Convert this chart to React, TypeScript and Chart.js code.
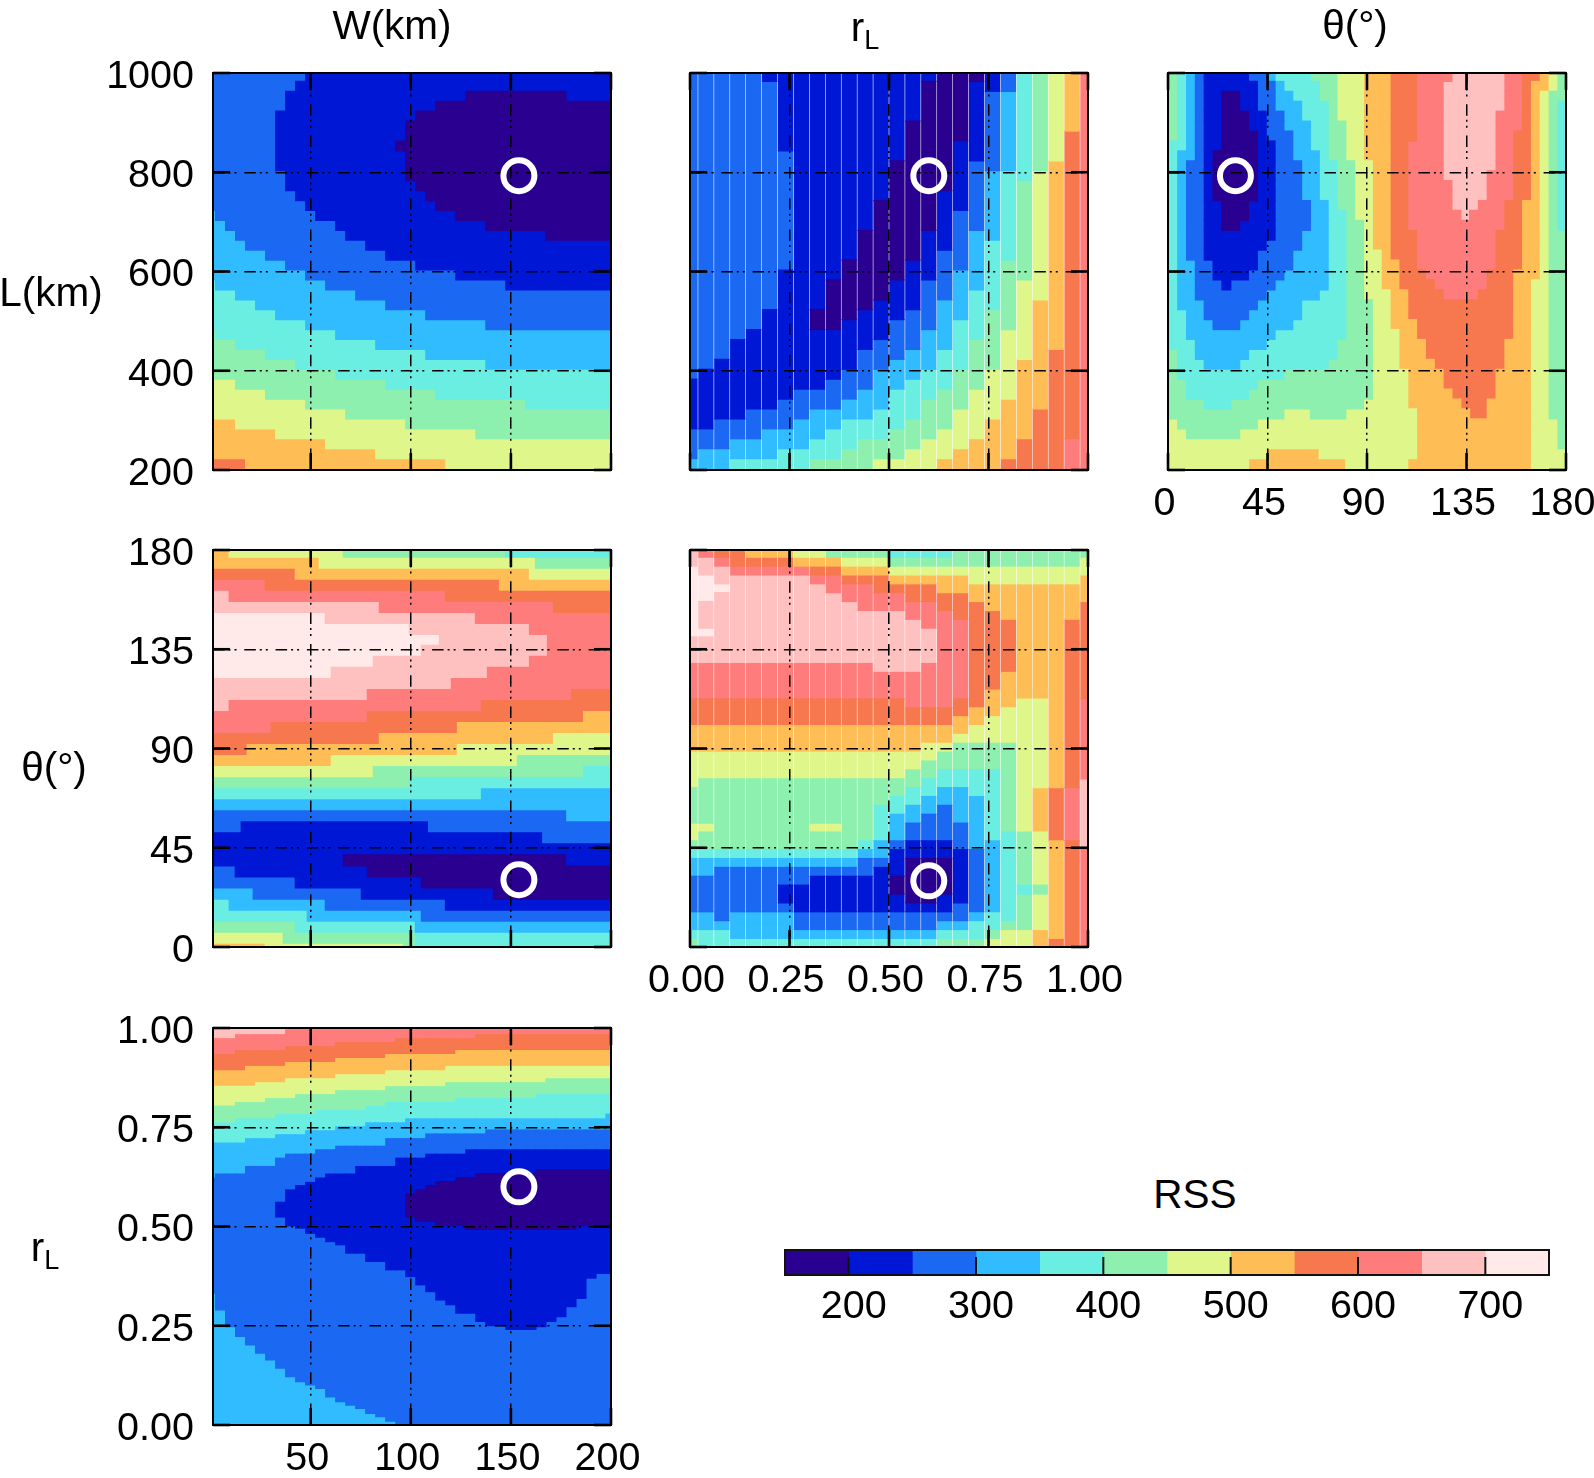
import React, { useEffect, useRef } from "react";
import { Chart, registerables } from "chart.js";
Chart.register(...registerables);

const FONT = '"Liberation Sans", Arial, sans-serif';
const bandColors = ["#2a0090","#0018d6","#1b69f2","#30bcff","#6aeee1","#8df0ae","#dff68a","#ffbd55","#f7774f","#ff7c7c","#ffc0c0","#ffe9e9"];
const rssEdges = [150,200,250,300,350,400,450,500,550,600,650,700,750];
const rssTicks = [200,300,400,500,600,700];
const widthTicks = [50,100,150,200];
const lengthTicks = [200,400,600,800,1000];
const angleTicks = [0,45,90,135,180];
const ratioTicks = [0,0.25,0.5,0.75,1];
const bestW = 154, bestL = 793, bestR = 0.6, bestT = 30.5;

// L vs W: each row from the top, [band, last column, band, last column, ...]
const lwRows = [
[2,9,1,40],[2,8,1,40],[2,7,1,25,0,35,1,40],[2,7,1,22,0,40],[2,6,1,20,0,40],[2,6,1,19,0,40],[2,6,1,19,0,40],[2,6,1,18,0,40],[2,6,1,19,0,40],[2,6,1,19,0,40],
[2,7,1,19,0,40],[2,7,1,20,0,40],[2,8,1,21,0,40],[2,9,1,22,0,40],[3,0,2,10,1,24,0,40],[3,1,2,12,1,27,0,40],[3,2,2,13,1,33,0,40],[3,3,2,15,1,40],[3,5,2,17,1,40],[3,7,2,20,1,40],
[3,9,2,24,1,40],[4,0,3,11,2,29,1,40],[4,2,3,14,2,40],[4,4,3,17,2,40],[4,6,3,21,2,40],[4,9,3,27,2,40],[5,0,4,12,3,40],[5,2,4,16,3,40],[5,5,4,21,3,40],[5,8,4,27,3,40],
[5,12,4,40],[6,2,5,17,4,40],[6,5,5,22,4,40],[6,9,5,31,4,40],[6,13,5,40],[7,2,6,19,5,40],[7,6,6,26,5,40],[7,11,6,40],[7,16,6,40],[8,3,7,23,6,40],[8,8,7,36,6,40],
];

// L vs r_L: each column from the left, [band, last row, band, last row, ...]
const lrCols = [
[2,31,1,36,2,39,3,41],[2,30,1,36,2,38,3,41],[2,29,1,35,2,38,3,40,4,41],[2,27,1,35,2,37,3,39,4,41],[2,26,1,34,2,37,3,39,4,41],[1,1,2,24,1,34,2,36,3,39,4,41],
[1,8,2,20,1,33,2,36,3,38,4,40,5,41],[1,32,2,35,3,38,4,40,5,41],[1,24,0,26,1,32,2,34,3,37,4,39,5,41],[1,21,0,26,1,31,2,34,3,36,4,39,5,41],[1,19,0,25,1,30,2,33,3,35,4,38,5,41],
[1,16,0,24,1,28,2,32,3,35,4,37,5,40,6,41],[1,13,0,23,1,27,2,30,3,34,4,37,5,39,6,41],[1,9,0,21,1,25,2,29,3,32,4,36,5,39,6,41],[1,5,0,19,1,24,2,28,3,31,4,35,5,38,6,41],
[1,1,0,16,1,21,2,26,3,30,4,33,5,37,6,40,7,41],[0,12,1,18,2,23,3,28,4,32,5,36,6,39,7,41],[0,7,1,14,2,20,3,25,4,30,5,34,6,38,7,41],[0,1,1,9,2,16,3,22,4,27,5,32,6,37,7,41],
[1,2,2,10,3,17,4,24,5,30,6,35,7,40,8,41],[2,2,3,10,4,19,5,26,6,33,7,39,8,41],[4,11,5,21,6,29,7,37,8,41],[5,10,6,23,7,34,8,41],[6,9,7,28,8,41],[7,6,8,37,9,41],[9,41],
];

// L vs theta: each row from the top
const ltRows = [
[5,0,4,1,3,2,2,3,1,8,2,10,3,11,4,15,5,18,6,21,7,24,8,27,9,31,10,37,9,39,8,41,7,42,6,43,5,44],
[5,0,4,1,3,2,2,3,1,9,2,11,3,12,4,16,5,18,6,21,7,24,8,27,9,30,10,37,9,39,8,40,7,42,6,43,5,44],
[5,0,4,1,3,2,2,3,1,5,0,7,1,9,2,11,3,13,4,16,5,18,6,21,7,24,8,27,9,30,10,37,9,39,8,40,7,41,6,42,5,44],
[5,0,4,1,3,2,2,3,1,5,0,7,1,9,2,11,3,14,4,17,5,18,6,21,7,24,8,27,9,30,10,37,9,39,8,40,7,41,6,42,5,43,4,44],
[5,0,4,1,3,2,2,3,1,5,0,8,1,10,2,12,3,14,4,17,5,18,6,21,7,24,8,27,9,30,10,36,9,39,8,40,7,41,6,42,5,43,4,44],
[5,0,4,1,3,2,2,3,1,5,0,8,1,10,2,12,3,15,4,17,5,19,6,21,7,24,8,27,9,30,10,36,9,39,8,40,7,41,6,42,5,43,4,44],
[5,0,4,1,3,2,2,3,1,5,0,9,1,10,2,13,3,15,4,17,5,19,6,21,7,24,8,27,9,30,10,36,9,38,8,40,7,41,6,42,5,43,4,44],
[4,1,3,2,2,3,1,5,0,9,1,11,2,13,3,15,4,17,5,19,6,21,7,24,8,26,9,30,10,36,9,38,8,40,7,41,6,42,5,43,4,44],
[4,0,3,2,2,3,1,4,0,9,1,11,2,13,3,16,4,17,5,19,6,21,7,24,8,26,9,30,10,36,9,38,8,40,7,41,6,42,5,43,4,44],
[4,0,3,1,2,3,1,4,0,9,1,11,2,14,3,16,4,18,5,20,6,22,7,24,8,26,9,30,10,36,9,38,8,40,7,41,6,42,5,43,4,44],
[4,0,3,1,2,3,1,4,0,9,1,11,2,14,3,16,4,18,5,20,6,22,7,24,8,26,9,30,10,35,9,38,8,40,7,41,6,42,5,43,4,44],
[4,0,3,1,2,3,1,4,0,9,1,11,2,14,3,16,4,18,5,20,6,22,7,24,8,26,9,31,10,35,9,38,8,40,7,41,6,42,5,43,4,44],
[4,0,3,1,2,3,1,4,0,9,1,11,2,14,3,16,4,18,5,20,6,22,7,24,8,26,9,31,10,35,9,38,8,40,7,41,6,42,5,43,4,44],
[4,0,3,1,2,3,1,5,0,8,1,11,2,15,3,17,4,18,5,20,6,22,7,24,8,26,9,31,10,34,9,37,8,39,7,41,6,42,5,43,4,44],
[4,0,3,1,2,3,1,5,0,8,1,11,2,15,3,17,4,19,5,20,6,22,7,24,8,26,9,32,10,33,9,37,8,39,7,41,6,42,5,43,4,44],
[4,0,3,1,2,3,1,5,0,7,1,11,2,15,3,17,4,19,5,21,6,22,7,24,8,26,9,37,8,39,7,41,6,42,5,43,4,44],
[4,0,3,1,2,3,1,11,2,14,3,17,4,19,5,21,6,22,7,24,8,27,9,36,8,39,7,41,6,42,5,44],
[4,0,3,1,2,3,1,10,2,14,3,17,4,19,5,21,6,22,7,24,8,27,9,36,8,39,7,41,6,42,5,44],
[4,0,3,1,2,3,1,9,2,13,3,17,4,19,5,21,6,23,7,24,8,27,9,36,8,39,7,41,6,42,5,44],
[4,0,3,2,2,4,1,9,2,13,3,17,4,19,5,21,6,23,7,25,8,27,9,36,8,39,7,41,6,42,5,44],
[4,0,3,2,2,4,1,8,2,12,3,17,4,19,5,21,6,23,7,25,8,28,9,35,8,38,7,41,6,42,5,44],
[4,0,3,2,2,5,1,6,2,11,3,17,4,19,5,21,6,23,7,25,8,29,9,35,8,38,7,40,6,42,5,44],
[4,0,3,2,2,10,3,16,4,19,5,21,6,24,7,26,8,30,9,34,8,38,7,40,6,42,5,44],
[4,0,3,3,2,9,3,14,4,19,5,22,6,24,7,26,8,38,7,40,6,42,5,44],
[4,1,3,3,2,8,3,14,4,19,5,22,6,24,7,26,8,38,7,40,6,42,5,44],
[4,1,3,4,2,7,3,13,4,19,5,22,6,24,7,27,8,38,7,40,6,42,5,44],
[4,1,3,11,4,19,5,22,6,25,7,27,8,38,7,40,6,42,5,44],
[4,2,3,10,4,18,5,22,6,25,7,28,8,37,7,40,6,42,5,44],
[5,0,4,2,3,8,4,18,5,22,6,25,7,28,8,37,7,40,6,42,5,44],
[5,0,4,3,3,7,4,17,5,22,6,25,7,29,8,37,7,40,6,42,5,44],
[5,0,4,12,5,22,6,26,7,30,8,36,7,40,6,42,5,44],
[5,1,4,9,5,22,6,26,7,30,8,36,7,40,6,42,5,44],
[5,1,4,8,5,22,6,26,7,31,8,36,7,40,6,42,5,44],
[5,3,4,6,5,21,6,26,7,32,8,35,7,40,6,42,5,44],
[5,12,6,15,5,19,6,27,7,33,8,35,7,40,6,42,5,44],
[6,0,5,9,6,27,7,40,6,43,5,44],
[6,1,5,7,6,27,7,40,6,43,5,44],
[6,27,7,40,6,43,5,44],
[6,10,7,16,6,27,7,40,6,44],
[6,8,7,19,6,26,7,40,6,44],
[6,5,7,19,6,26,7,41,6,44],
];

// theta vs W: each row from the top
const twRows = [
[7,3,6,22,5,49,4,67],[7,18,6,54,5,67],[8,14,7,53,6,67],[9,9,8,48,7,67],[10,3,9,39,8,67],[10,28,9,57,8,67],[11,19,10,44,9,67],[11,33,10,53,9,67],[11,38,10,56,9,67],[11,35,10,56,9,67],
[11,27,10,53,9,67],[11,20,10,46,9,67],[10,40,9,67],[10,26,9,60,8,67],[10,3,9,45,8,67],[9,26,8,62,7,67],[9,10,8,41,7,67],[8,28,7,57,6,67],[8,6,7,41,6,67],[7,20,6,51,5,67],
[6,27,5,62,4,67],[5,33,4,67],[4,45,3,67],[3,67],[2,59,3,67],[2,5,1,36,2,67],[1,55,2,67],[1,67],[1,22,0,59,1,67],[2,4,1,26,0,67],
[2,14,1,35,0,67],[3,7,2,25,1,47,0,67],[4,3,3,19,2,39,1,67],[4,16,3,35,2,67],[5,14,4,34,3,67],[6,12,5,34,4,67],[7,9,6,32,5,34,4,67],
];

// theta vs r_L: each column from the left
const trCols = [
[10,2,11,10,10,13,9,17,8,20,7,23,6,27,5,31,6,33,5,34,4,35,3,37,2,41,3,43,4,44,5,45],
[9,1,10,3,11,6,10,9,11,10,10,13,9,17,8,20,7,23,6,26,5,31,6,32,5,34,4,35,3,37,2,41,3,43,4,45],
[8,1,9,2,10,4,11,5,10,13,9,17,8,20,7,23,6,26,5,34,4,35,3,36,2,42,3,43,4,45],
[8,2,9,3,10,13,9,17,8,20,7,23,6,26,5,34,4,35,3,36,2,41,3,44,4,45],
[7,1,8,2,9,3,10,13,9,17,8,20,7,23,6,26,5,34,4,35,3,36,2,41,3,44,4,45],
[7,1,8,2,9,3,10,13,9,17,8,20,7,23,6,26,5,34,4,35,3,36,2,41,3,44,4,45],
[7,1,8,2,9,3,10,13,9,17,8,20,7,23,6,26,5,34,4,35,3,36,2,38,1,40,2,41,3,44,4,45],
[6,1,7,2,9,3,10,13,9,17,8,20,7,23,6,26,5,34,4,35,3,36,2,38,1,41,2,43,3,44,4,45],
[6,1,7,2,8,3,9,4,10,13,9,17,8,20,7,23,6,26,5,31,6,32,5,34,4,35,3,36,2,37,1,41,2,43,3,44,4,45],
[5,1,7,2,8,3,9,5,10,13,9,17,8,20,7,23,6,26,5,31,6,32,5,34,4,35,3,36,2,37,1,41,2,43,3,44,4,45],
[5,1,6,2,7,3,8,4,9,6,10,13,9,17,8,20,7,23,6,26,5,34,4,35,3,36,2,37,1,41,2,43,3,44,4,45],
[5,1,6,2,7,3,8,4,9,7,10,13,9,17,8,20,7,23,6,26,5,33,4,34,3,35,2,37,1,41,2,43,3,44,4,45],
[5,1,6,2,7,3,8,5,9,7,10,14,9,17,8,20,7,23,6,26,5,29,4,33,3,35,2,36,1,41,2,43,3,44,4,45],
[4,1,5,2,6,3,7,4,8,5,9,7,10,14,9,17,8,20,7,23,6,26,5,28,4,30,3,33,2,34,1,37,0,39,1,41,2,43,3,44,4,45],
[4,1,5,2,6,3,7,4,8,6,9,8,10,14,9,18,8,20,7,23,6,25,5,27,4,29,3,31,2,33,1,35,0,40,1,41,2,43,3,44,4,45],
[4,1,5,2,6,3,7,4,8,6,9,9,10,13,9,18,8,20,7,22,6,24,5,26,4,28,3,30,2,33,1,35,0,40,1,41,2,43,3,44,4,45],
[4,1,5,2,6,3,7,5,8,7,9,18,8,20,7,22,6,23,5,25,4,27,3,29,2,33,1,35,0,39,1,41,2,42,3,43,4,44,5,45],
[5,2,6,3,7,5,8,8,9,17,8,19,7,21,6,22,5,25,4,27,3,31,2,34,1,40,2,42,3,43,4,44,5,45],
[5,2,6,4,7,6,8,18,7,20,6,22,5,25,4,28,3,34,2,41,3,42,4,44,5,45],
[5,2,6,4,7,7,8,16,7,19,6,22,5,25,4,33,3,41,4,43,5,44,6,45],
[5,2,6,4,7,8,8,14,7,18,6,22,5,32,4,42,5,43,6,45],
[5,2,6,4,7,17,6,32,5,38,4,39,5,43,6,45],
[5,2,6,4,7,17,6,27,7,32,6,38,5,39,6,43,7,45],
[5,2,6,4,7,27,8,33,7,44,8,45],
[5,2,6,4,7,8,8,27,9,33,8,45],
[5,1,6,3,7,6,8,17,9,26,10,34,9,45],
];

// r_L vs W: from top to bottom, the band stack and the stepped edges under each band, [last column, r_L]
const rwStack = [10,9,8,7,6,5,4,3,2,1,0,1,2,3];
const rwEdges = [
[[2,.973],[7,.983],[41,1]],
[[2,.933],[7,.943],[12,.953],[18,.963],[26,.973],[41,.983]],
[[3,.892],[7,.903],[12,.913],[17,.923],[24,.933],[41,.943]],
[[4,.853],[7,.862],[12,.872],[17,.882],[23,.892],[41,.903]],
[[2,.803],[5,.812],[8,.822],[12,.832],[17,.842],[23,.852],[33,.862],[41,.872]],
[[2,.761],[6,.771],[10,.782],[15,.792],[17,.802],[24,.812],[32,.822],[41,.832]],
[[3,.710],[6,.721],[9,.731],[12,.741],[15,.751],[19,.761],[39,.771],[41,.783]],
[[0,.622],[3,.632],[6,.651],[7,.672],[10,.682],[12,.693],[17,.702],[21,.721],[27,.733],[41,.743]],
[[6,.542],[7,.561],[8,.592],[9,.603],[10,.611],[11,.622],[14,.632],[18,.651],[21,.672],[25,.682],[41,.693]],
[[6,.542],[19,.553],[20,.582],[21,.592],[22,.603],[24,.613],[26,.623],[32,.633],[41,.643]],
[[6,.542],[19,.553],[20,.524],[22,.513],[25,.503],[36,.493],[41,.502]],
[[6,.542],[7,.524],[8,.502],[9,.496],[10,.483],[11,.473],[12,.462],[13,.454],[15,.433],[17,.412],[19,.391],[20,.374],[21,.353],[22,.336],[23,.315],[24,.303],[26,.282],[27,.261],[29,.250],[32,.241],[33,.248],[34,.261],[35,.273],[36,.298],[37,.319],[38,.370],[41,.382]],
[[0,.332],[1,.290],[2,.248],[3,.223],[4,.202],[5,.181],[6,.164],[7,.143],[8,.122],[9,.109],[10,.101],[11,.092],[12,.071],[13,.059],[14,.050],[15,.042],[16,.029],[17,.021],[18,.010],[41,0]],
];

type Pt = any;
const emptyBands = (): Pt[][] => bandColors.map(() => []);

function rowBars(rows: number[][], rowCentre: (r: number) => number, colEdge: (c: number) => number, xMin: number) {
  const out = emptyBands();
  rows.forEach((runs, r) => {
    let lo = xMin;
    for (let i = 0; i < runs.length; i += 2) {
      const hi = colEdge(runs[i + 1]);
      out[runs[i]].push({ y: rowCentre(r), x: [lo, hi] });
      lo = hi;
    }
  });
  return out;
}
function colBars(cols: number[][], colCentre: (c: number) => number, rowEdge: (i: number) => number) {
  const out = emptyBands();
  cols.forEach((runs, c) => {
    let hi = rowEdge(0);
    for (let i = 0; i < runs.length; i += 2) {
      const lo = rowEdge(runs[i + 1]);
      out[runs[i]].push({ x: colCentre(c), y: [lo, hi] });
      hi = lo;
    }
  });
  return out;
}
function stackBars() {
  const out = emptyBands();
  for (let j = -1; j < 40; j++) {
    let hi = 1;
    rwStack.forEach((band, k) => {
      const steps = rwEdges[k];
      const lo = k < rwEdges.length ? (steps.find((s) => j < s[0]) as number[])[1] : 0;
      if (hi > lo) out[band].push({ x: 5 + 5 * j, y: [lo, hi] });
      hi = Math.min(hi, lo);
    });
  }
  return out;
}

const M = { left: 210, right: 50, top: 30, bottom: 70 };
const fmt2 = (v: number) => v.toFixed(2);
const fmt0 = (v: number) => String(v);

const panels = [
  { left: 213, top: 73, bars: rowBars(lwRows, (r) => 993 - 20 * r, (c) => 2.5 + 5 * c, 1.2), horizontal: true, xr: [1.2, 200], yr: [200, 1000], xt: widthTicks, yt: lengthTicks, xl: null, yl: fmt0, best: { x: bestW, y: bestL } },
  { left: 690, top: 73, bars: colBars(lrCols, (c) => 0.04 * c, (i) => 1003 - 20 * i), horizontal: false, seam: true, xr: [0, 1], yr: [200, 1000], xt: ratioTicks, yt: lengthTicks, xl: null, yl: null, best: { x: bestR, y: bestL } },
  { left: 1168, top: 73, bars: rowBars(ltRows, (r) => 993 - 20 * r, (c) => 4.4 + 4 * c, 0), horizontal: true, xr: [0, 180], yr: [200, 1000], xt: angleTicks, yt: lengthTicks, xl: fmt0, yl: null, best: { x: bestT, y: bestL } },
  { left: 213, top: 550, bars: rowBars(twRows, (r) => 179.24 - 5 * r, (c) => 0.3 + 3 * c, 1.2), horizontal: true, xr: [1.2, 200], yr: [0, 180], xt: widthTicks, yt: angleTicks, xl: null, yl: fmt0, best: { x: bestW, y: bestT } },
  { left: 690, top: 550, bars: colBars(trCols, (c) => 0.04 * c, (i) => 180.76 - 4.019 * i), horizontal: false, seam: true, xr: [0, 1], yr: [0, 180], xt: ratioTicks, yt: angleTicks, xl: fmt2, yl: null, best: { x: bestR, y: 30 } },
  { left: 213, top: 1028, bars: stackBars(), horizontal: false, xr: [1.2, 200], yr: [0, 1], xt: widthTicks, yt: ratioTicks, xl: fmt0, yl: fmt2, best: { x: bestW, y: bestR } },
];
const PLOT_W = 398;
const PLOT_H = 397;

function drawTick(ctx: any, x0: number, y0: number, x1: number, y1: number, w: number) {
  ctx.lineWidth = w;
  ctx.beginPath();
  ctx.moveTo(x0, y0);
  ctx.lineTo(x1, y1);
  ctx.stroke();
}

const framePlugin = {
  id: "frame",
  beforeDatasetDraw(chart: any, args: any) {
    if (args.meta.type === "scatter") {
      chart.scales.x.drawGrid(chart.chartArea);
      chart.scales.y.drawGrid(chart.chartArea);
    }
  },
  afterDraw(chart: any) {
    const { ctx, chartArea: a, scales } = chart;
    const T = 17;
    ctx.save();
    ctx.setLineDash([]);
    ctx.lineCap = "butt";
    ctx.strokeStyle = "#000";
    scales.x.ticks.forEach((t: any) => {
      const p = scales.x.getPixelForValue(t.value);
      drawTick(ctx, p, a.top, p, a.top + T, 2.6);
      drawTick(ctx, p, a.bottom, p, a.bottom - T, 2.6);
    });
    scales.y.ticks.forEach((t: any) => {
      const p = scales.y.getPixelForValue(t.value);
      drawTick(ctx, a.left, p, a.left + T, p, 2.6);
      drawTick(ctx, a.right, p, a.right - T, p, 2.6);
    });
    ctx.lineWidth = 2;
    ctx.strokeRect(a.left, a.top, a.right - a.left, a.bottom - a.top);
    ctx.restore();
  },
};

const legendPlugin = {
  id: "legendFrame",
  afterDraw(chart: any) {
    const { ctx, chartArea: a, scales } = chart;
    ctx.save();
    ctx.strokeStyle = "#111";
    scales.x.ticks.forEach((t: any) => {
      const p = scales.x.getPixelForValue(t.value);
      drawTick(ctx, p, a.bottom, p, a.bottom - 18, 2);
    });
    ctx.lineWidth = 2;
    ctx.strokeRect(a.left, a.top, a.right - a.left, a.bottom - a.top);
    ctx.restore();
  },
};

function noPadding(s: any) {
  s.paddingTop = 0;
  s.paddingBottom = 0;
  s.paddingLeft = 0;
  s.paddingRight = 0;
}

function axis(range: number[], ticks: number[], label: any, size: number, isX: boolean) {
  return {
    type: "linear",
    min: range[0],
    max: range[1],
    offset: false,
    afterBuildTicks(s: any) { s.ticks = ticks.map((value) => ({ value })); },
    afterFit(s: any) { if (isX) s.height = size; else s.width = size; noPadding(s); },
    grid: { offset: false, color: "#000", lineWidth: 1.5, drawTicks: false, z: -1 },
    border: { display: false, dash: [11.5, 4, 2, 4, 2, 7.8] },
    ticks: {
      display: !!label,
      autoSkip: false,
      maxRotation: 0,
      minRotation: 0,
      padding: isX ? 10 : 19,
      labelOffset: isX ? -3.5 : 4,
      color: "#000",
      font: { family: FONT, size: 39.5 },
      callback: (v: number) => (label ? label(v) : ""),
    },
  };
}

const texts: { x: number; y: number; node: React.ReactNode }[] = [
  { x: 392, y: 25, node: "W(km)" },
  { x: 865, y: 30, node: <span>r<sub style={{ fontSize: 27, verticalAlign: -8 }}>L</sub></span> },
  { x: 1355, y: 25, node: "θ(°)" },
  { x: 51, y: 292, node: "L(km)" },
  { x: 54, y: 767, node: "θ(°)" },
  { x: 45, y: 1250, node: <span>r<sub style={{ fontSize: 27, verticalAlign: -8 }}>L</sub></span> },
  { x: 1195, y: 1194, node: "RSS" },
];

export default function App() {
  const refs = useRef<(HTMLCanvasElement | null)[]>([]);
  const legendRef = useRef<HTMLCanvasElement | null>(null);

  useEffect(() => {
    const charts: Chart[] = panels.map((p, i) => {
      const bars = bandColors.map((color, b) => ({
        type: "bar",
        label: `RSS ${rssEdges[b]}-${rssEdges[b + 1]}`,
        data: p.bars[b],
        backgroundColor: color,
        borderWidth: 0,
        grouped: false,
        barPercentage: p.seam ? 0.89 : 1,
        categoryPercentage: 1,
        inflateAmount: 0.6,
        indexAxis: p.horizontal ? "y" : "x",
        order: 1,
      }));
      const marker = {
        type: "scatter",
        label: "Best fit",
        data: [p.best],
        pointStyle: "circle",
        pointRadius: 15.5,
        pointHoverRadius: 15.5,
        borderWidth: 6,
        borderColor: "#fff",
        backgroundColor: "rgba(0,0,0,0)",
        order: 0,
      };
      return new Chart(refs.current[i] as HTMLCanvasElement, {
        type: "bar",
        data: { datasets: [...bars, marker] as any },
        options: {
          animation: false,
          responsive: false,
          devicePixelRatio: 1,
          layout: { padding: { top: M.top, right: M.right, left: 0, bottom: 0 } },
          plugins: { legend: { display: false }, tooltip: { enabled: false } },
          scales: {
            x: axis(p.xr, p.xt, p.xl, M.bottom, true),
            y: axis(p.yr, p.yt, p.yl, M.left, false),
          } as any,
        },
        plugins: [framePlugin],
      } as any);
    });

    const legend = new Chart(legendRef.current as HTMLCanvasElement, {
      type: "bar",
      data: {
        labels: ["RSS"],
        datasets: bandColors.map((color, b) => ({
          label: `RSS ${rssEdges[b]}-${rssEdges[b + 1]}`,
          data: [[rssEdges[b], rssEdges[b + 1]]],
          backgroundColor: color,
          borderWidth: 0,
          grouped: false,
          barPercentage: 1,
          categoryPercentage: 1,
        })) as any,
      },
      options: {
        indexAxis: "y",
        animation: false,
        responsive: false,
        devicePixelRatio: 1,
        layout: { padding: { top: 10, right: 50, left: 0, bottom: 0 } },
        plugins: { legend: { display: false }, tooltip: { enabled: false } },
        scales: {
          y: { display: true, grid: { display: false }, border: { display: false }, ticks: { display: false }, afterFit(s: any) { s.width = 50; noPadding(s); } },
          x: {
            type: "linear",
            min: 150,
            max: 750,
            afterBuildTicks(s: any) { s.ticks = rssTicks.map((value) => ({ value })); },
            afterFit(s: any) { s.height = 70; noPadding(s); },
            grid: { display: false },
            border: { display: false },
            ticks: { autoSkip: false, maxRotation: 0, padding: 0, labelOffset: 5, color: "#000", font: { family: FONT, size: 39.5 } },
          },
        } as any,
      },
      plugins: [legendPlugin],
    } as any);
    charts.push(legend);
    return () => charts.forEach((c) => c.destroy());
  }, []);

  return (
    <div style={{ position: "absolute", left: 0, top: 0, width: 1594, height: 1478, overflow: "hidden", background: "#fff", fontFamily: FONT }}>
      {panels.map((p, i) => (
        <canvas
          key={i}
          ref={(el) => { refs.current[i] = el; }}
          width={M.left + PLOT_W + M.right}
          height={M.top + PLOT_H + M.bottom}
          style={{ position: "absolute", left: p.left - M.left, top: p.top - M.top }}
        />
      ))}
      <canvas ref={legendRef} width={50 + 764 + 50} height={10 + 25 + 70} style={{ position: "absolute", left: 785 - 50, top: 1250 - 10 }} />
      {texts.map((t, i) => (
        <div key={i} style={{ position: "absolute", left: t.x, top: t.y, transform: "translate(-50%,-50%)", fontSize: 40.5, lineHeight: 1, color: "#000", whiteSpace: "nowrap" }}>
          {t.node}
        </div>
      ))}
    </div>
  );
}
